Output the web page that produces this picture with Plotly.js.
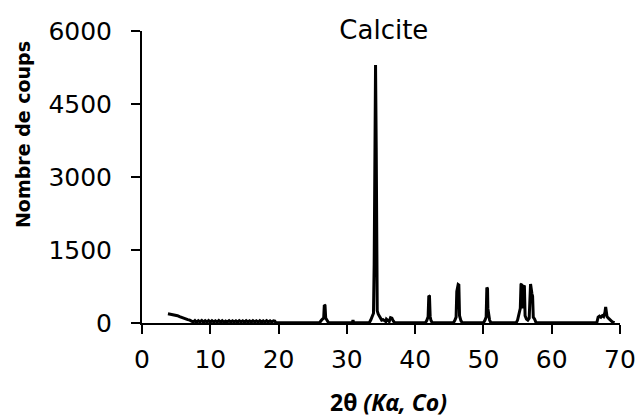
<!DOCTYPE html>
<html>
<head>
<meta charset="utf-8">
<script src="https://cdn.plot.ly/plotly-3.0.1.min.js"></script>
<style>html,body{margin:0;padding:0;background:#fff;}#chart{width:638px;height:417px;}</style>
</head>
<body>
<div id="chart"></div>
<script>
// 2θ (degrees, Co Kα) and counts
const twoTheta = [
  3.8, 4.0, 4.3, 4.6, 4.9, 5.2, 5.5, 5.8, 6.1, 6.4, 6.7, 7.0,
  7.25, 7.5, 7.75, 8.0, 8.25, 8.5, 8.75, 9.0, 9.25, 9.5, 9.75, 10.0,
  10.25, 10.5, 10.75, 11.0, 11.25, 11.5, 11.75, 12.0, 12.25, 12.5, 12.75, 13.0,
  13.25, 13.5, 13.75, 14.0, 14.25, 14.5, 14.75, 15.0, 15.25, 15.5, 15.75, 16.0,
  16.25, 16.5, 16.75, 17.0, 17.25, 17.5, 17.75, 18.0, 18.25, 18.5, 18.75, 19.0,
  19.25, 19.45, 19.6, 22.0, 26.0,
  26.3, 26.5, 26.6, 26.7, 26.8, 26.9, 27.1, 27.3, 29.0,
  30.8, 30.9, 31.0, 33.0,
  33.3, 33.5, 33.7, 33.9, 34.0, 34.1, 34.2, 34.3, 34.35, 34.45, 34.6, 34.75, 34.9, 35.1, 35.3, 35.5,
  35.7, 35.8, 36.0, 36.2, 36.4, 36.6, 36.8, 37.0, 40.0,
  41.5, 41.7, 41.8, 41.9, 42.0, 42.1, 42.2, 42.3, 42.5, 45.0,
  45.6, 45.8, 46.0, 46.1, 46.2, 46.3, 46.4, 46.5, 46.7, 46.9, 49.0,
  50.0, 50.2, 50.4, 50.5, 50.6, 50.65, 50.8, 50.9, 51.1, 54.0,
  54.8, 55.0, 55.2, 55.4, 55.5, 55.6, 55.7, 55.8, 56.0, 56.1, 56.3, 56.5, 56.7, 56.8, 56.9, 57.1, 57.2, 57.3, 57.5, 57.7, 57.9, 62.0,
  66.6, 66.8, 67.0, 67.2, 67.4, 67.6, 67.7, 67.8, 67.9, 68.0, 68.1, 68.3, 68.6, 68.9, 69.2
];
const counts = [
  190, 185, 178, 170, 160, 150, 130, 112, 96, 82, 70, 60,
  45, 20, 50, 15, 48, 22, 52, 18, 46, 20, 50, 16,
  48, 22, 45, 18, 50, 20, 46, 15, 42, 22, 48, 18,
  45, 20, 44, 16, 48, 22, 45, 18, 46, 20, 44, 16,
  48, 22, 45, 18, 46, 20, 44, 16, 48, 22, 45, 18,
  46, 40, 5, 5, 5,
  60, 90, 80, 370, 360, 100, 60, 10, 5,
  5, 60, 5, 5,
  10, 60, 140, 200, 1200, 4000, 5300, 3600, 900, 250, 180, 150, 100, 60, 70, 40,
  30, 80, 60, 30, 110, 100, 40, 5, 5,
  5, 50, 110, 130, 560, 550, 130, 60, 5, 5,
  5, 50, 120, 650, 750, 790, 780, 150, 50, 5, 5,
  5, 50, 120, 730, 700, 300, 200, 60, 5, 5,
  5, 60, 220, 300, 790, 800, 300, 760, 750, 150, 80, 60, 100, 790, 800, 600, 550, 120, 80, 10, 5, 5,
  5, 120, 140, 120, 150, 130, 160, 220, 330, 250, 130, 100, 60, 20, 5
];
const xTicks = [0, 10, 20, 30, 40, 50, 60, 70];
const yTicks = [0, 1500, 3000, 4500, 6000];

const trace = {
  x: twoTheta, y: counts, type: 'scatter', mode: 'lines',
  line: {color: '#000', width: 3}, hoverinfo: 'skip'
};
const axisCommon = {
  showline: true, linecolor: '#000', linewidth: 2, showgrid: false, zeroline: false,
  ticks: 'outside', ticklen: 9, tickwidth: 2, tickcolor: '#000',
  tickfont: {family: 'DejaVu Sans', size: 25, color: '#000'}
};
const layout = {
  width: 638, height: 417,
  margin: {l: 142, r: 18, t: 31, b: 94},
  paper_bgcolor: '#fff', plot_bgcolor: '#fff',
  showlegend: false,
  title: {text: 'Calcite', font: {family: 'DejaVu Sans', size: 26, color: '#000'},
          xref: 'paper', x: 0.506, xanchor: 'center', yref: 'container', y: 0.928, yanchor: 'middle'},
  xaxis: Object.assign({}, axisCommon, {range: [0, 70], tickvals: xTicks, ticklabelstandoff: 4}),
  yaxis: Object.assign({}, axisCommon, {range: [0, 6000], tickvals: yTicks, ticklabelstandoff: 14}),
  annotations: [
    {text: '<b>Nombre de coups</b>', textangle: -90, xref: 'paper', yref: 'paper',
     x: -0.249, y: 0.647, xanchor: 'center', yanchor: 'middle', showarrow: false,
     font: {family: 'DejaVu Sans', size: 19, color: '#000'}},
    {text: '<b>2θ <i>(Kα, Co)</i></b>', xref: 'paper', yref: 'paper',
     x: 0.515, y: -0.27, xanchor: 'center', yanchor: 'middle', showarrow: false,
     font: {family: 'Open Sans', size: 23, color: '#000'}}
  ]
};
Plotly.newPlot('chart', [trace], layout, {displayModeBar: false, staticPlot: true});
</script>
</body>
</html>
